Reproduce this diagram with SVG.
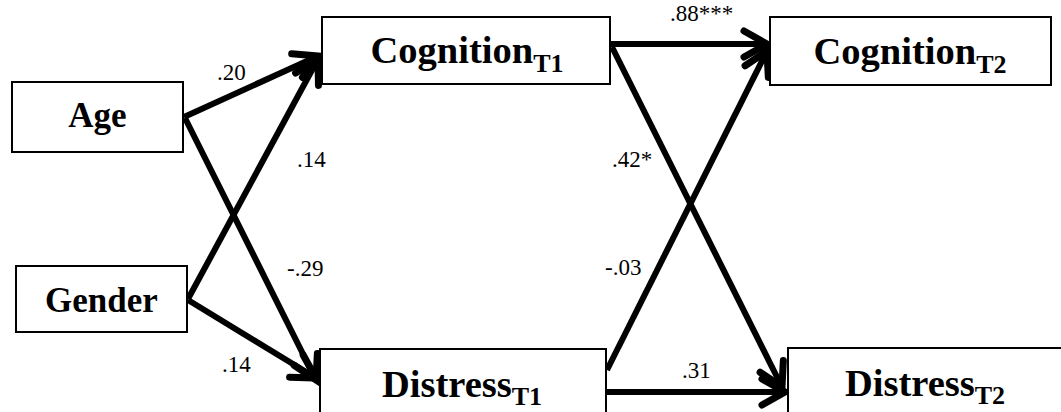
<svg xmlns="http://www.w3.org/2000/svg" width="1061" height="412" viewBox="0 0 1061 412">
<style>
.box{fill:#fff;stroke:#000;stroke-width:2}
.big{font-family:"Liberation Serif","DejaVu Serif",serif;font-weight:bold;fill:#000}
.sub{font-family:"Liberation Serif","DejaVu Serif",serif;font-weight:bold;font-size:26px}
.lbl{font-family:"Liberation Serif","DejaVu Serif",serif;font-size:23px;fill:#000}
.edge{stroke:#000;stroke-width:6;fill:none;marker-end:url(#ah)}
</style>
<defs>
<marker id="ah" markerUnits="userSpaceOnUse" markerWidth="40" markerHeight="40" viewBox="-30 -20 40 40" refX="0" refY="0" orient="auto" overflow="visible">
<path d="M-23,-13 L0,0 L-23,13" fill="none" stroke="#000" stroke-width="7" stroke-linecap="round" stroke-linejoin="miter"/>
</marker>
</defs>
<rect width="1061" height="412" fill="#fff"/>
<g id="connectors">
<line class="edge" x1="184" y1="117" x2="318" y2="56"/>
<line class="edge" x1="188" y1="299" x2="318" y2="59"/>
<line class="edge" x1="185" y1="118" x2="316" y2="380"/>
<line class="edge" x1="188" y1="300" x2="316" y2="378"/>
<line class="edge" x1="610" y1="44" x2="767" y2="44"/>
<line class="edge" x1="612" y1="47" x2="782" y2="387"/>
<line class="edge" x1="607" y1="370" x2="767" y2="51"/>
<line class="edge" x1="606" y1="392" x2="785" y2="392"/>
</g>
<g id="node-age">
<rect class="box" x="12" y="82" width="171" height="70"/>
<text class="big" x="97.5" y="127" font-size="35" text-anchor="middle">Age</text>
</g>
<g id="node-gender">
<rect class="box" x="16" y="266" width="171" height="66"/>
<text class="big" x="101.5" y="312" font-size="35" text-anchor="middle">Gender</text>
</g>
<g id="node-cog1">
<rect class="box" x="322" y="17" width="288" height="67"/>
<text class="big" x="467" y="63" font-size="38.5" text-anchor="middle">Cognition<tspan class="sub" dy="9">T1</tspan></text>
</g>
<g id="node-cog2">
<rect class="box" x="770" y="17" width="281" height="68"/>
<text class="big" x="910" y="64" font-size="38.5" text-anchor="middle">Cognition<tspan class="sub" dy="9">T2</tspan></text>
</g>
<g id="node-dis1">
<rect class="box" x="320" y="349" width="286" height="80"/>
<text class="big" x="462" y="397" font-size="38.5" text-anchor="middle">Distress<tspan class="sub" dy="8">T1</tspan></text>
</g>
<g id="node-dis2">
<rect class="box" x="788" y="348" width="290" height="80"/>
<text class="big" x="925" y="396" font-size="38.5" text-anchor="middle">Distress<tspan class="sub" dy="8">T2</tspan></text>
</g>
<g id="labels">
<text class="lbl" x="217" y="80">.20</text>
<text class="lbl" x="297" y="167">.14</text>
<text class="lbl" x="287" y="276">-.29</text>
<text class="lbl" x="222" y="372">.14</text>
<text class="lbl" x="670" y="21">.88***</text>
<text class="lbl" x="612" y="167">.42*</text>
<text class="lbl" x="605" y="275">-.03</text>
<text class="lbl" x="682" y="378">.31</text>
</g>
</svg>
